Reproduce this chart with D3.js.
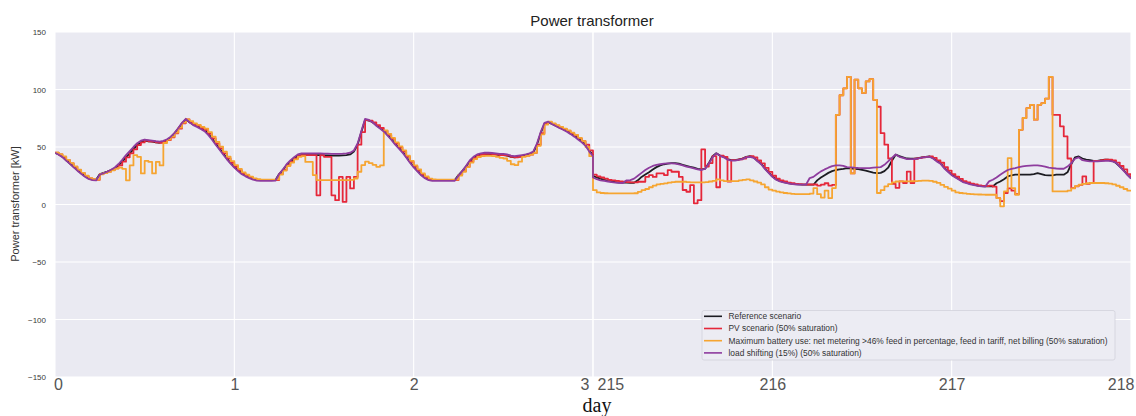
<!DOCTYPE html>
<html>
<head>
<meta charset="utf-8">
<script src="https://cdn.jsdelivr.net/npm/d3@7"></script>
<style>
  html, body { margin: 0; padding: 0; background: #ffffff; }
  svg { display: block; }
</style>
</head>
<body>
<svg id="chart" width="1136" height="416"></svg>
<script>
// ---------------- DATA (30-minute samples) ----------------
// Left block: days 0..3 (hours 0..72), right block: days 215..218 (hours 72..144)
const seriesNames = [
  "Reference scenario",
  "PV scenario (50% saturation)",
  "Maximum battery use: net metering >46% feed in percentage, feed in tariff, net billing (50% saturation)",
  "load shifting (15%) (50% saturation)"
];
const seriesColors = ["#1c1c22", "#e5273a", "#f6a531", "#8e3c9e"];
const yTicks = [-150, -100, -50, 0, 50, 100, 150];
const xTickHours = [0, 24, 48, 72, 72, 96, 120, 144];
const xTickLabels = ["0", "1", "2", "3", "215", "216", "217", "218"];

const refLeft = [
  45, 43.5, 41.5, 38.5, 35.7, 32.8, 29.9, 27.2, 24.7, 22.8, 21.8, 21.5,
  26.5, 27.5, 28.6, 30, 31.5, 34, 37.2, 41, 44.5, 48, 51.7, 54,
  55.5, 55, 54.6, 54, 53.7, 54.5, 56, 58.5, 61.9, 66, 70.6, 74,
  71.5, 69.5, 68.3, 66.5, 64.8, 61.5, 57.5, 53, 48.8, 44.5, 40.1, 36.2,
  32.8, 29.8, 27, 25.2, 23.6, 22.3, 21.5, 21.2, 21.2, 21.2, 21.2, 21.3,
  26.5, 30, 34.2, 37.3, 40, 42.3, 43, 43, 43, 43, 43, 43,
  42.8, 42.8, 42.5, 42.5, 42.5, 42.8, 43, 43.5, 46, 52, 63, 73.5,
  73, 71.5, 69, 66.5, 64, 60.5, 57, 53, 49.5, 46, 41.5, 37,
  33, 29.5, 26, 23.5, 21.8, 21.2, 21.2, 21.2, 21.2, 21.2, 21.2, 21.3,
  25.6, 29, 33, 37.5, 40.5, 42.5, 43.5, 44, 44, 43.8, 43.5, 43,
  43, 42.5, 41.5, 41, 41.5, 42, 42.5, 43.5, 45, 52, 62, 70,
  71.5, 70, 68.5, 67, 65.5, 64, 62, 60, 57.5, 55, 52, 47,
  43
];
const refRight = [
  25, 23.5, 22.5, 21.5, 20.5, 20, 19.5, 19, 19, 19, 18.9, 18.9,
  21, 24, 26, 28, 30.5, 32.5, 34, 35, 35.5, 36, 36, 35.5,
  34.5, 33.5, 32.8, 32, 31, 30.5, 31, 36, 42, 44.5, 42.5, 41.5,
  39.5, 38.6, 38.6, 39.2, 40, 41.5, 42, 41, 38, 35.5, 31.5, 28,
  24.5, 22, 20.5, 19.5, 18.7, 18.2, 17.8, 17.5, 17.3, 17.2, 17.2, 17.2,
  21, 23.4, 25.5, 27.5, 29, 30, 30.5, 31, 31.7, 31.5, 31, 30.8,
  30.2, 29.5, 28.5, 27.8, 27.3, 27.5, 29, 32, 38, 43.3, 42, 41,
  40, 39.8, 39.8, 40.4, 41, 41.5, 41.8, 40.5, 38, 36, 32, 29,
  26, 24, 22, 20, 19, 18, 17.2, 16.5, 16, 15.8, 15.8, 15.8,
  18.5, 20, 22, 24.4, 25.3, 25.9, 25.9, 26, 26, 25.9, 26.5, 27.3,
  26.5, 25.5, 25.3, 25.3, 25.9, 25.9, 25.9, 28, 35, 41, 41.8, 40,
  39, 38.5, 38, 38, 38.5, 38.9, 38.9, 38, 36, 33, 30, 26,
  23
];

const pvLeft = [
  45, 43.5, 41.5, 38.5, 35.7, 32.8, 29.9, 27.2, 24.7, 22.8, 21.8, 21.5,
  26.5, 27.5, 28.6, 30, 31.5, 34, 37.2, 41, 44.5, 48, 51.7, 54,
  55.5, 55, 54.6, 54, 53.7, 54.5, 56, 58.5, 61.9, 66, 70.6, 74,
  71.5, 69.5, 68.3, 66.5, 64.8, 61.5, 57.5, 53, 48.8, 44.5, 40.1, 36.2,
  32.8, 29.8, 27, 25.2, 23.6, 22.3, 21.5, 21.2, 21.2, 21.2, 21.2, 21.3,
  26.5, 30, 34.2, 37.3, 40, 42.3, 43, 43, 43, 43, 8, 43,
  41.5, 41.5, 8, 3.8, 24, 2.3, 24, 14, 24, 52, 63, 73.5,
  73, 71.5, 69, 66.5, 64, 60.5, 57, 53, 49.5, 46, 41.5, 37,
  33, 29.5, 26, 23.5, 21.8, 21.2, 21.2, 21.2, 21.2, 21.2, 21.2, 21.3,
  25.6, 29, 33, 37.5, 40.5, 42.5, 43.5, 44, 44, 43.8, 43.5, 43,
  43, 42.5, 41.5, 41, 41.5, 42, 42.5, 43.5, 45, 52, 62, 70,
  71.5, 70, 68.5, 67, 65.5, 64, 62, 60, 57.5, 55, 52, 47,
  43
];
const pvRight = [
  26, 24.5, 23.5, 22.5, 21.5, 21, 20.5, 20, 19.8, 19.5, 19.2, 19.2,
  19.8, 19.8, 24.1, 25.6, 24, 27, 27, 25.6, 29.9, 28.5, 28.5, 24,
  12.6, 11.1, 16.9, 1, 3.8, 48, 33, 36, 42, 15, 42.5, 41.5,
  20, 38.6, 38.6, 39.2, 40, 41.5, 42, 41, 38.3, 35.8, 31.8, 28.3,
  25, 22.5, 21, 20, 19, 18.5, 18, 17.7, 17.5, 17.4, 17.4, 17.4,
  16.5, 17.2, 18.5, 16.5, 17, 78, 95, 101, 111, 27, 108.6, 101,
  97, 107, 109, 91, 85, 62, 52, 40, 18, 14.5, 20.1, 18.7,
  28.6, 18.7, 39.8, 40.4, 41, 41.5, 41.8, 40.5, 38.3, 36.3, 32.5, 29.5,
  26.3, 24.3, 22.3, 20.3, 19.2, 18.2, 17.4, 16.7, 16.2, 16, 16.5, 15.5,
  5.6, 3, 10, 14, 12, 9, 64.9, 75.2, 83.8, 86.7, 73.8, 86.7,
  88.1, 92, 111, 78, 78, 68, 59.3, 40, 14.3, 15.8, 17, 24.4,
  18, 18.7, 38, 38, 38.5, 38.9, 38.9, 38.3, 36.5, 33.5, 30.5, 26.5,
  23.5
];

const batLeft = [
  45, 43.7, 41.8, 38.8, 36, 33.1, 30.2, 27.5, 25, 23, 22, 21.7,
  26.3, 27.3, 28.4, 29.8, 31.2, 32, 31, 21, 34, 43, 41.5, 27,
  38, 37, 27, 37, 34, 53.5, 56.5, 59, 62.5, 66.8, 71.2, 74,
  72.5, 70.5, 69.3, 67.5, 66, 63, 59, 54.5, 50.3, 46, 41.6, 37.7,
  34.2, 31, 28, 26, 24.3, 22.8, 22, 21.7, 21.7, 21.7, 21.7, 21.8,
  26, 29.5, 33.5, 36.5, 39.3, 41.5, 42, 37, 37, 25.6, 21.2, 21.2,
  21.2, 21.2, 21.2, 21.2, 21.2, 21.2, 21.2, 21.4, 22.6, 28.5, 34.3, 37.2,
  36, 34.5, 32.8, 34, 64.5, 61.5, 58, 54, 50.5, 47, 42.5, 38,
  34, 30.5, 27, 24.5, 22.5, 21.8, 21.6, 21.6, 21.6, 21.6, 21.6, 21.7,
  25.2, 28.5, 32.5, 36.5, 39.5, 41.3, 42, 42.3, 42.3, 42, 41.5, 40.5,
  40, 38, 35, 34.3, 37.2, 41.5, 42.3, 43.5, 45, 51, 61, 69.5,
  72, 70.5, 69, 67.5, 66, 64.5, 62.5, 60.5, 58, 55, 50, 42,
  33
];
const batRight = [
  12.5, 10.5, 10, 9.8, 9.6, 9.6, 9.6, 9.6, 9.6, 9.6, 9.6, 9.8,
  11, 12.5, 13.5, 15, 16.5, 17.5, 18, 18.4, 19, 19.5, 19.8, 19.8,
  19.8, 19.5, 19.3, 19.2, 19.2, 19.3, 19.5, 20, 20.5, 21.8, 21, 20.4,
  20.4, 20.4, 20.4, 21, 21.5, 21.8, 21, 20, 19, 17.5, 15, 13,
  12, 11.2, 10.6, 10, 9.6, 9.3, 9.1, 9, 9, 9, 9.5, 14.3,
  9, 6, 12, 5.6, 14.3, 78, 95, 101, 111, 27, 108.6, 101,
  97, 107, 109, 91, 10, 12.5, 15.8, 17.8, 19.2, 20, 20.1, 20.1,
  20.1, 20.2, 20.4, 20.6, 20.7, 20.7, 20.5, 19.8, 18.8, 17, 15.3, 13.8,
  12, 10.5, 10, 9.6, 9.3, 9, 8.8, 8.7, 8.6, 8.5, 8.5, 8.5,
  5.6, -1.6, 11.4, 40.4, 14.3, 8.5, 64.9, 75.2, 83.8, 86.7, 73.8, 86.7,
  88.1, 92, 111, 11.4, 11.4, 11.4, 11.4, 12, 14, 16, 17.2, 18,
  18.5, 18.7, 18.7, 18.7, 18.7, 18.5, 18.2, 17.5, 16.3, 15, 13.5, 12,
  11.5
];

const lsLeft = [
  45, 43.3, 41.2, 38.2, 35.3, 32.3, 29.4, 26.7, 24.2, 22.2, 21.2, 20.9,
  26, 27.2, 28.5, 30.2, 32.2, 35.2, 38.8, 43, 46.5, 50, 53.3, 55.5,
  56.5, 56, 55.5, 55, 54.7, 55.3, 56.7, 59, 62.3, 66.5, 71, 74.5,
  71.5, 69, 67.5, 65.7, 63.8, 60.5, 56.5, 52, 47.8, 43.5, 39.3, 35.5,
  32, 29, 26.3, 24.5, 22.9, 21.6, 20.8, 20.5, 20.5, 20.5, 20.5, 20.7,
  26.5, 30.5, 35, 38.3, 41.2, 43.5, 44.5, 44.5, 44.5, 44.5, 44.5, 44.5,
  44.3, 44.2, 44, 44, 44, 44.2, 44.5, 45, 47, 53, 64, 74.5,
  73.5, 71.5, 68.5, 66, 63.5, 60, 56.3, 52.3, 48.7, 45.2, 40.8, 36.3,
  32.3, 28.8, 25.4, 22.9, 21.1, 20.5, 20.5, 20.5, 20.5, 20.5, 20.5, 20.6,
  25, 29, 33.5, 38.3, 41.5, 43.5, 44.5, 45, 45, 44.8, 44.5, 44,
  44, 43.5, 42.5, 42, 42.5, 43, 43.5, 44.5, 46, 53, 63, 71,
  72, 70, 68.3, 66.5, 65, 63.2, 61.2, 59, 56.5, 54, 51, 46,
  42
];
const lsRight = [
  23.5, 22, 21, 20.5, 20, 19.5, 19, 18.8, 18.7, 21, 21.2, 22.5,
  25, 27.5, 30, 32, 33.5, 34.5, 35, 35.5, 35.8, 35.8, 35.5, 34.8,
  34, 33, 32.3, 31.5, 30.5, 30, 31, 35.5, 41, 44.5, 42.3, 41,
  39, 38.2, 38.2, 38.8, 39.5, 41, 41.5, 40.5, 37.8, 35, 31, 27.5,
  24, 21.5, 20, 19.2, 18.6, 18, 17.6, 17.3, 17.2, 17.2, 23, 24,
  26.5, 28.8, 30.5, 32, 33.3, 34, 34, 33.5, 32.5, 32.3, 32, 31.8,
  31.7, 31.7, 31.7, 32, 32.3, 32.5, 34.5, 37.5, 40.5, 43.5, 41.5, 40.5,
  39.5, 39.5, 39.5, 40, 40.8, 41.2, 41.5, 40, 37.5, 35.5, 31.5, 28.5,
  25.5, 23.5, 21.5, 19.5, 18.5, 17.5, 16.8, 16.2, 15.8, 15.6, 20.1, 21.5,
  23.5, 25.9, 28, 30, 31, 31.7, 32.5, 33.2, 33.5, 33.8, 34, 34,
  33.5, 33, 32, 31.7, 31.3, 31.1, 31.1, 33, 36, 39.8, 41, 38.5,
  38, 37.5, 37.5, 37.5, 37.8, 38, 38, 37.5, 36.5, 33, 29.4, 26,
  22.5
];

// ---------------- LAYOUT ----------------
const plot = { left: 55, right: 1131, top: 32, bottom: 377 };
const svg = d3.select("#chart");
const font = "'Liberation Sans', Arial, sans-serif";

const x = d3.scaleLinear().domain([0, 144]).range([plot.left, plot.right]);
const y = d3.scaleLinear().domain([-150, 150]).range([plot.bottom, plot.top]);

// background
svg.append("rect").attr("x", plot.left).attr("y", plot.top)
  .attr("width", plot.right - plot.left).attr("height", plot.bottom - plot.top)
  .attr("fill", "#eaeaf2");

// grid
const grid = svg.append("g");
grid.selectAll("line.h").data(yTicks).join("line")
  .attr("x1", plot.left).attr("x2", plot.right)
  .attr("y1", d => y(d)).attr("y2", d => y(d))
  .attr("stroke", "#ffffff").attr("stroke-width", 1.1);
grid.selectAll("line.v").data(xTickHours).join("line")
  .attr("y1", plot.top).attr("y2", plot.bottom)
  .attr("x1", d => x(d)).attr("x2", d => x(d))
  .attr("stroke", "#ffffff").attr("stroke-width", 1.1);

// y axis tick labels
const yAxis = d3.axisLeft(y).tickValues(yTicks).tickSize(0).tickPadding(9)
  .tickFormat(d => d < 0 ? "\u2212" + Math.abs(d) : String(d));
const yg = svg.append("g").attr("transform", `translate(${plot.left},0)`).call(yAxis);
yg.select(".domain").remove();
yg.selectAll("text").attr("font-family", font).attr("font-size", 8).attr("fill", "#3a3a3a");

// x axis tick labels
const xAxis = d3.axisBottom(x).tickValues(xTickHours).tickSize(0).tickPadding(0)
  .tickFormat((d, i) => xTickLabels[i]);
const xg = svg.append("g").attr("transform", `translate(0,${plot.bottom})`).call(xAxis);
xg.select(".domain").remove();
xg.selectAll(".tick text")
  .attr("font-family", font).attr("font-size", 16).attr("fill", "#555")
  .attr("y", 13).attr("dy", 0)
  .attr("text-anchor", (d, i) => i === 3 ? "end" : (i === 4 ? "start" : (i === 7 ? "end" : "middle")))
  .attr("dx", (d, i) => i === 0 ? 3 : (i === 3 ? -4 : (i === 4 ? 4 : (i === 7 ? 3 : 0))));

// axis labels & title
svg.append("text").attr("x", 592).attr("y", 26).attr("text-anchor", "middle")
  .attr("font-family", font).attr("font-size", 15).attr("fill", "#222")
  .text("Power transformer");
svg.append("text").attr("transform", "translate(19,204) rotate(-90)")
  .attr("text-anchor", "middle").attr("font-family", font).attr("font-size", 11)
  .attr("fill", "#333").text("Power transformer [kW]");
svg.append("text").attr("x", 597).attr("y", 411.5).attr("text-anchor", "middle")
  .attr("font-family", "'Liberation Serif', 'DejaVu Serif', serif").attr("font-size", 20)
  .attr("fill", "#111").text("day");

// lines
function toPoints(left, right) {
  const pts = left.map((v, i) => ({ h: i * 0.5, v }));
  return pts.concat(right.map((v, i) => ({ h: 72 + i * 0.5, v })));
}
const data = [
  { pts: toPoints(refLeft, refRight), curve: d3.curveLinear },
  { pts: toPoints(pvLeft, pvRight), curve: d3.curveStepAfter },
  { pts: toPoints(batLeft, batRight), curve: d3.curveStepAfter },
  { pts: toPoints(lsLeft, lsRight), curve: d3.curveLinear }
];
svg.append("defs").append("clipPath").attr("id", "clip").append("rect")
  .attr("x", plot.left).attr("y", plot.top)
  .attr("width", plot.right - plot.left).attr("height", plot.bottom - plot.top);
const lines = svg.append("g").attr("clip-path", "url(#clip)");
data.forEach((s, i) => {
  const gen = d3.line().x(d => x(d.h)).y(d => y(d.v)).curve(s.curve);
  lines.append("path").attr("d", gen(s.pts)).attr("fill", "none")
    .attr("stroke", seriesColors[i]).attr("stroke-width", 1.8)
    .attr("stroke-linejoin", "round");
});

// legend
const lg = svg.append("g");
lg.append("rect").attr("x", 702).attr("y", 310.5).attr("width", 413).attr("height", 49.5)
  .attr("rx", 2).attr("fill", "#ececf3").attr("stroke", "#d2d2da").attr("stroke-width", 0.8);
seriesNames.forEach((name, i) => {
  const yy = 316.3 + i * 12.2;
  lg.append("line").attr("x1", 704).attr("x2", 722).attr("y1", yy).attr("y2", yy)
    .attr("stroke", seriesColors[i]).attr("stroke-width", 1.6);
  lg.append("text").attr("x", 728.5).attr("y", yy + 2.9)
    .attr("font-family", font).attr("font-size", 8.4).attr("fill", "#333").text(name);
});
</script>
</body>
</html>
